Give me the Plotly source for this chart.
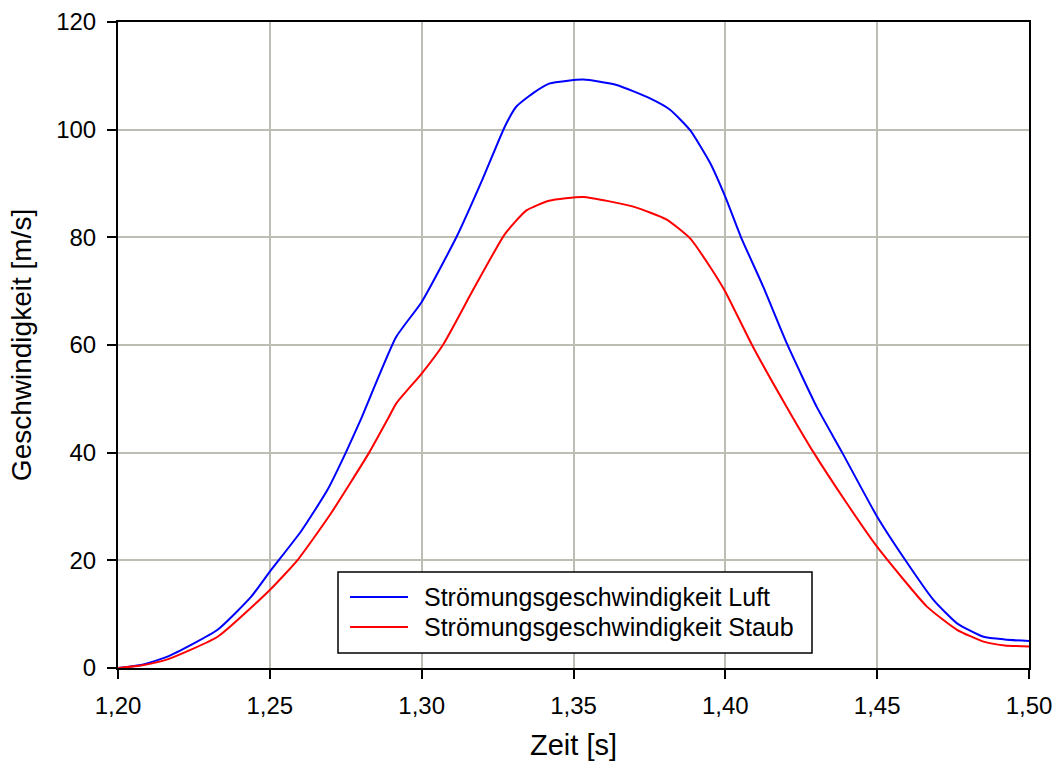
import plotly.graph_objects as go

# Strömungsgeschwindigkeit Luft
t_luft = [1.200, 1.2080, 1.2163, 1.2328, 1.2438, 1.250, 1.2603, 1.269, 1.2751, 1.2799,
          1.2915, 1.300, 1.3115, 1.3202, 1.3274, 1.3312, 1.3367, 1.3422, 1.3532, 1.3642,
          1.3752, 1.3818, 1.3884, 1.3950, 1.400, 1.4051, 1.4125, 1.4204, 1.4301, 1.4384,
          1.450, 1.4592, 1.4686, 1.4763, 1.485, 1.492, 1.500]
v_luft = [0.0, 0.6, 2.1, 7.1, 13.2, 17.9, 25.4, 33.1, 40.1, 46.1,
          61.4, 68.0, 80.1, 91.0, 100.6, 104.3, 106.8, 108.6, 109.3, 108.3,
          105.8, 103.7, 99.9, 93.8, 87.5, 80.1, 70.8, 60.1, 48.5, 40.1,
          28.1, 20.1, 12.6, 8.3, 5.8, 5.3, 5.0]

# Strömungsgeschwindigkeit Staub
t_staub = [1.200, 1.2080, 1.2163, 1.2328, 1.250, 1.2592, 1.2701, 1.2828, 1.2887, 1.2917, 1.300,
           1.3071, 1.3169, 1.3274, 1.3345, 1.3420, 1.3532, 1.3697, 1.3807, 1.3884, 1.3950,
           1.400, 1.4087, 1.4202, 1.429, 1.440, 1.450, 1.4664, 1.4763, 1.485, 1.492, 1.500]
v_staub = [0.0, 0.5, 1.6, 5.8, 14.5, 20.1, 28.7, 40.1, 46.1, 49.2, 54.7,
           60.1, 70.2, 80.6, 85.0, 86.8, 87.5, 85.7, 83.3, 79.8, 74.5,
           69.9, 60.1, 48.5, 40.1, 30.6, 22.5, 11.4, 7.1, 4.9, 4.2, 4.0]

x_ticks = [1.20, 1.25, 1.30, 1.35, 1.40, 1.45, 1.50]
y_ticks = [0, 20, 40, 60, 80, 100, 120]

series = [
    ("Strömungsgeschwindigkeit Luft", t_luft, v_luft, "#0000FF"),
    ("Strömungsgeschwindigkeit Staub", t_staub, v_staub, "#FF0000"),
]

FONT = "Arial, Liberation Sans, sans-serif"
GRID = "#BDBDB4"

fig = go.Figure()
for name, t, v, color in series:
    fig.add_trace(go.Scatter(x=t, y=v, mode="lines", name=name, showlegend=False,
                             line=dict(color=color, width=2, shape="spline", smoothing=0.5)))

axis_common = dict(showline=True, linecolor="black", linewidth=2, mirror=True,
                   ticks="outside", ticklen=9, tickwidth=2, tickcolor="black",
                   showgrid=True, gridcolor=GRID, gridwidth=2, zeroline=False,
                   automargin=False,
                   tickfont=dict(family=FONT, size=24, color="black"))

fig.update_xaxes(range=[1.20, 1.50], tickvals=x_ticks, tickformat=".2f",
                 ticklabelstandoff=6,
                 title=dict(text="Zeit [s]", font=dict(family=FONT, size=29, color="black"),
                            standoff=17),
                 **axis_common)
fig.update_yaxes(range=[0, 120], tickvals=y_ticks, ticklabelstandoff=6,
                 title=dict(text="Geschwindigkeit [m/s]",
                            font=dict(family=FONT, size=28, color="black"), standoff=16),
                 **axis_common)

# Legend box drawn in paper coordinates
lx0, lx1, ly0, ly1 = 0.2415, 0.7618, 0.0232, 0.1486
sx0, sx1, tx = 0.2547, 0.3183, 0.3337
rows_y = [0.1099, 0.0635]
shapes = [dict(type="rect", xref="paper", yref="paper", x0=lx0, x1=lx1, y0=ly0, y1=ly1,
               line=dict(color="black", width=1.5), fillcolor="white", layer="above")]
annotations = []
for (name, _, _, color), ry in zip(series, rows_y):
    shapes.append(dict(type="line", xref="paper", yref="paper", x0=sx0, x1=sx1, y0=ry, y1=ry,
                       line=dict(color=color, width=2), layer="above"))
    annotations.append(dict(xref="paper", yref="paper", x=tx, y=ry, text=name,
                            showarrow=False, xanchor="left", yanchor="middle",
                            font=dict(family=FONT, size=25, color="black")))

fig.update_layout(
    width=1057, height=765,
    margin=dict(l=118, r=28, t=22, b=97),
    paper_bgcolor="white", plot_bgcolor="white",
    separators=", ",
    font=dict(family=FONT, color="black"),
    shapes=shapes, annotations=annotations,
)

fig.write_html("out.html")
